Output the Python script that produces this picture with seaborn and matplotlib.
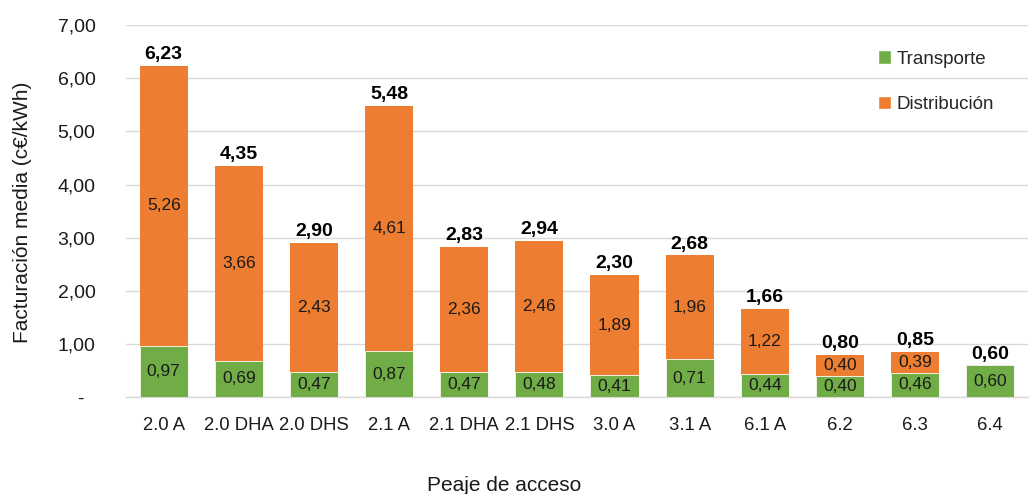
import matplotlib
matplotlib.use("Agg")
import matplotlib.pyplot as plt
import seaborn as sns
import pandas as pd
from matplotlib.patches import Patch
from matplotlib.ticker import FuncFormatter

categories = ["2.0 A", "2.0 DHA", "2.0 DHS", "2.1 A", "2.1 DHA", "2.1 DHS",
              "3.0 A", "3.1 A", "6.1 A", "6.2", "6.3", "6.4"]
transporte = [0.97, 0.69, 0.47, 0.87, 0.47, 0.48, 0.41, 0.71, 0.44, 0.40, 0.46, 0.60]
distribucion = [5.26, 3.66, 2.43, 4.61, 2.36, 2.46, 1.89, 1.96, 1.22, 0.40, 0.39, 0.00]
totales = [6.23, 4.35, 2.90, 5.48, 2.83, 2.94, 2.30, 2.68, 1.66, 0.80, 0.85, 0.60]

GREEN = "#70AD47"
ORANGE = "#ED7D31"
TEXT = "#1a1a1a"

sns.set_style("white")
plt.rcParams["font.family"] = ["Liberation Sans", "DejaVu Sans"]

df = pd.DataFrame({
    "peaje": categories,
    "transporte": transporte,
    "distribucion": distribucion,
    "total": totales,
})
df["apilado"] = df["transporte"] + df["distribucion"]

fig = plt.figure(figsize=(10.34, 4.94), dpi=100)
ax = fig.add_axes([0.122, 0.196, 0.872, 0.753])

# Orange layer spans the whole stack, green layer drawn over its base
sns.barplot(data=df, x="peaje", y="apilado", color=ORANGE, saturation=1,
            width=0.64, ax=ax, linewidth=0, zorder=2)
sns.barplot(data=df, x="peaje", y="transporte", color=GREEN, saturation=1,
            width=0.64, ax=ax, edgecolor="white", linewidth=0.6, zorder=3)

ax.set_ylim(0, 7)
ax.set_xlim(-0.5, len(categories) - 0.5)
ax.set_yticks(range(0, 8))
ax.yaxis.set_major_formatter(FuncFormatter(
    lambda v, p: "-  " if v == 0 else f"{v:.2f}".replace(".", ",")))
ax.grid(axis="y", color="#D9D9D9", linewidth=1, zorder=0)
ax.set_axisbelow(True)
for s in ["top", "right", "left"]:
    ax.spines[s].set_visible(False)
ax.spines["bottom"].set_color("#D9D9D9")
ax.spines["bottom"].set_linewidth(1)
ax.tick_params(axis="both", length=0, colors=TEXT)
ax.tick_params(axis="y", labelsize=14, pad=22)
ax.tick_params(axis="x", labelsize=13.3, pad=14)
ax.set_xlabel("")
ax.set_ylabel("")

fig.text(0.0213, 0.571, "Facturación media (c€/kWh)", rotation=90,
         ha="center", va="center", fontsize=15, color=TEXT)
fig.text(0.4875, 0.0182, "Peaje de acceso", ha="center", va="center",
         fontsize=15, color=TEXT)

fmt = lambda v: f"{v:.2f}".replace(".", ",")
for i, (t, d, tot) in enumerate(zip(transporte, distribucion, totales)):
    ax.text(i, t / 2, fmt(t), ha="center", va="center", fontsize=12.5, color=TEXT, zorder=5)
    if d > 0:
        ax.text(i, t + d / 2, fmt(d), ha="center", va="center", fontsize=12.5,
                color=TEXT, zorder=5)
    ax.annotate(fmt(tot), (i, t + d), xytext=(0, 2), textcoords="offset points",
                ha="center", va="bottom", fontsize=14, fontweight="bold", color="#000000")

handles = [Patch(facecolor=GREEN, label="Transporte"),
           Patch(facecolor=ORANGE, label="Distribución")]
fig.legend(handles=handles, loc="upper left", bbox_to_anchor=(0.833, 0.932),
           frameon=False, fontsize=13.5, handlelength=0.7, handleheight=0.7,
           handletextpad=0.3, labelspacing=1.5)

fig.savefig("out.png", dpi=100)
